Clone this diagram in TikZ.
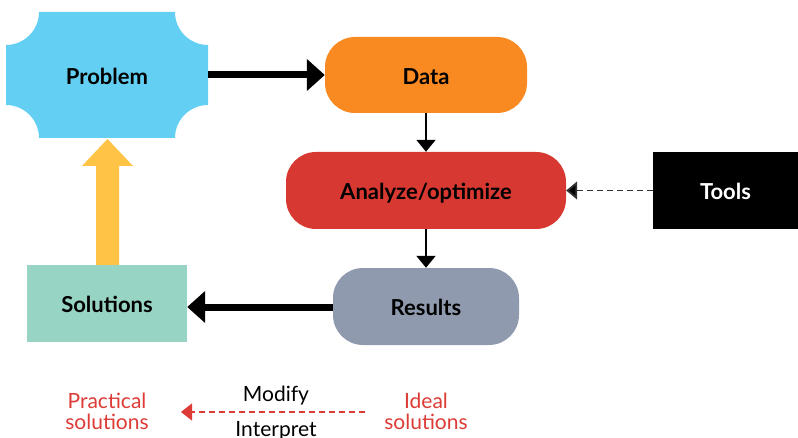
\documentclass[tikz,border=0pt]{standalone}
\usepackage{fontspec}
\setmainfont{Lato}
\usetikzlibrary{arrows.meta}
\definecolor{cprob}{HTML}{63D0F3}
\definecolor{cdata}{HTML}{F98A22}
\definecolor{cana}{HTML}{D73831}
\definecolor{cres}{HTML}{8F9AAF}
\definecolor{csol}{HTML}{98D4C4}
\definecolor{cyel}{HTML}{FFC345}
\definecolor{cred}{HTML}{DD3B35}
\definecolor{cdash}{HTML}{333333}
\tikzset{
  lbl/.style={font=\fontsize{22}{24}\selectfont\bfseries, text height=18.4pt, text depth=0pt},
  pill/.style={lbl, rounded corners=30pt, inner sep=0pt},
  sqbox/.style={lbl, inner sep=0pt},
  thickarr/.style={line width=7pt, -{Triangle[length=18pt,width=31pt]}},
  thinarr/.style={line width=2pt, -{Triangle[length=12pt,width=19pt]}},
  dasharr/.style={line width=1.8pt, draw=cdash, dash pattern=on 6pt off 4pt, -{Triangle[length=11pt,width=18pt,fill=black]}},
  note/.style={font=\fontsize{21}{21}\selectfont, align=center, inner sep=0pt},
}
\begin{document}
\begin{tikzpicture}[x=1pt,y=1pt]
\useasboundingbox (0,0) rectangle (798,437);
% Problem shape with concave corners
\fill[cprob] (39,425) -- (175,425) arc[start angle=180,end angle=270,radius=33]
  -- (208,332) arc[start angle=90,end angle=180,radius=33]
  -- (39,299) arc[start angle=0,end angle=90,radius=33]
  -- (6,392) arc[start angle=270,end angle=360,radius=33] -- cycle;
\node[sqbox, minimum width=202pt, minimum height=126pt] (prob) at (107,362) {Problem};
\node[pill, fill=cdata, minimum width=202pt, minimum height=76pt] (data) at (426,362) {Data};
\node[pill, fill=cana, minimum width=280pt, minimum height=77pt] (ana) at (426,246.5) {Analyze/optimize};
\node[sqbox, fill=black, text=white, minimum width=145pt, minimum height=77pt] (tools) at (725.5,246.5) {Tools};
\node[pill, fill=cres, minimum width=186pt, minimum height=77pt] (res) at (426,130.5) {Results};
\node[sqbox, fill=csol, minimum width=160pt, minimum height=77pt] (sol) at (107,133.5) {Solutions};
% connectors
\draw[thickarr] (prob.east) -- (data.west);
\draw[thinarr] (data.south) -- (ana.north);
\draw[thinarr] (ana.south) -- (res.north);
\draw[dasharr] (tools.west) -- (ana.east);
\draw[thickarr] (res.west |- 0,130) -- (sol.east |- 0,130);
% yellow block arrow
\fill[cyel] (96,172) -- (96,271) -- (82,271) -- (107.5,298) -- (133,271) -- (119,271) -- (119,172) -- cycle;
% bottom notes
\node[note, text=cred] (prac) at (107,26) {Practical\\solutions};
\node[note, text=cred] (ideal) at (426,26) {Ideal\\solutions};
\coordinate (dstart) at (365,25);
\coordinate (dend) at (181,25);
\draw[line width=1.5pt, cred, dash pattern=on 6pt off 4pt, -{Triangle[length=11pt,width=17pt]}] (dstart) -- (dend);
\node[note, anchor=base] (mod) at (276,36) {Modify};
\node[note, anchor=base] (int) at (276,1) {Interpret};
\end{tikzpicture}
\end{document}
